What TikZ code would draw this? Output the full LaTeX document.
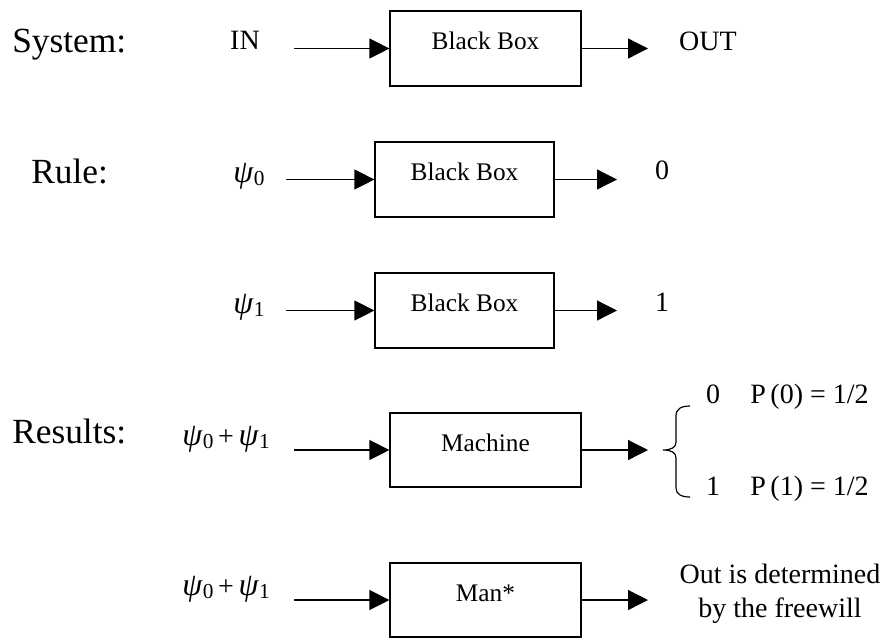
\documentclass[tikz,border=0pt]{standalone}
\usepackage{fontspec}
\setmainfont{Liberation Serif}
\usetikzlibrary{arrows.meta}

\newcommand{\wavesub}[1]{{\fontsize{24}{24}\selectfont\itshape ψ}\kern0.5pt\raisebox{-0.3ex}{\fontsize{16}{16}\selectfont #1}}

\begin{document}
\begin{tikzpicture}[x=0.75pt,y=-0.75pt,
  bbox/.style={draw,line width=0.9pt,inner sep=0pt,minimum height=56.25pt,text height=11pt,text depth=9pt,font=\fontsize{19}{22}\selectfont},
  big/.style={anchor=base west,inner sep=0pt,font=\fontsize{26.5}{30}\selectfont},
  small/.style={anchor=base,inner sep=0pt,font=\fontsize{21}{24}\selectfont},
  flow/.style={line width=0.9pt,-{Triangle[length=15pt,width=15pt]}}]
\useasboundingbox (0,0) rectangle (887,637);

% row headings
\node[big] at (12,52) (sys) {System:};
\node[big] at (31,183) (rule) {Rule:};
\node[big] at (12,443) (res) {Results:};

% boxes
\node[bbox,minimum width=143.25pt] at (485.5,48.5) (b1) {Black Box};
\node[bbox,minimum width=134.25pt] at (464.5,179.5) (b2) {Black Box};
\node[bbox,minimum width=134.25pt] at (464.5,310.5) (b3) {Black Box};
\node[bbox,minimum width=143.25pt,minimum height=55.5pt] at (485.5,450) (b4) {Machine};
\node[bbox,minimum width=143.25pt,minimum height=55.5pt] at (485.5,600) (b5) {Man*};

% inputs
\node[small] at (245,49) (in1) {IN};
\node[small,anchor=base west] at (233,182) (in2) {\wavesub{0}};
\node[small,anchor=base west] at (233,313) (in3) {\wavesub{1}};
\node[small,anchor=base west] at (182,445) (in4) {\wavesub{0}\,+\,\wavesub{1}};
\node[small,anchor=base west] at (182,595) (in5) {\wavesub{0}\,+\,\wavesub{1}};

% outputs
\node[small] at (708,50) (out1) {OUT};
\node[small] at (662,179) (out2) {0};
\node[small] at (662,311) (out3) {1};
\node[small] at (713,403) (o4a) {0};
\node[small,anchor=base west] at (750,403) (p4a) {P\,(0) = 1/2};
\node[small] at (713,495) (o4b) {1};
\node[small,anchor=base west] at (750,495) (p4b) {P\,(1) = 1/2};
\node[small] at (780,583) (o5a) {Out is determined};
\node[small] at (780,617) (o5b) {by the freewill};

\draw[line width=0.9pt] (690,406) .. controls (681,406) and (676,409) .. (676,416) -- (676,442)
  .. controls (676,447) and (672,450) .. (663,450) .. controls (672,450) and (676,453) .. (676,458)
  -- (676,488) .. controls (676,494) and (681,497) .. (690,497);

% arrow ends
\coordinate (s1) at (294,48.5);
\coordinate (s2) at (286,179.5);
\coordinate (s3) at (286,310.5);
\coordinate (s4) at (294,450);
\coordinate (s5) at (294,600);
\coordinate (e1) at (648,48.5);
\coordinate (e2) at (617,179.5);
\coordinate (e3) at (617,310.5);
\coordinate (e4) at (648,450);
\coordinate (e5) at (648,600);

\foreach \i in {1,...,5} {
  \draw[flow] (s\i) -- (b\i.west);
  \draw[flow] (b\i.east) -- (e\i);
}
\end{tikzpicture}
\end{document}
